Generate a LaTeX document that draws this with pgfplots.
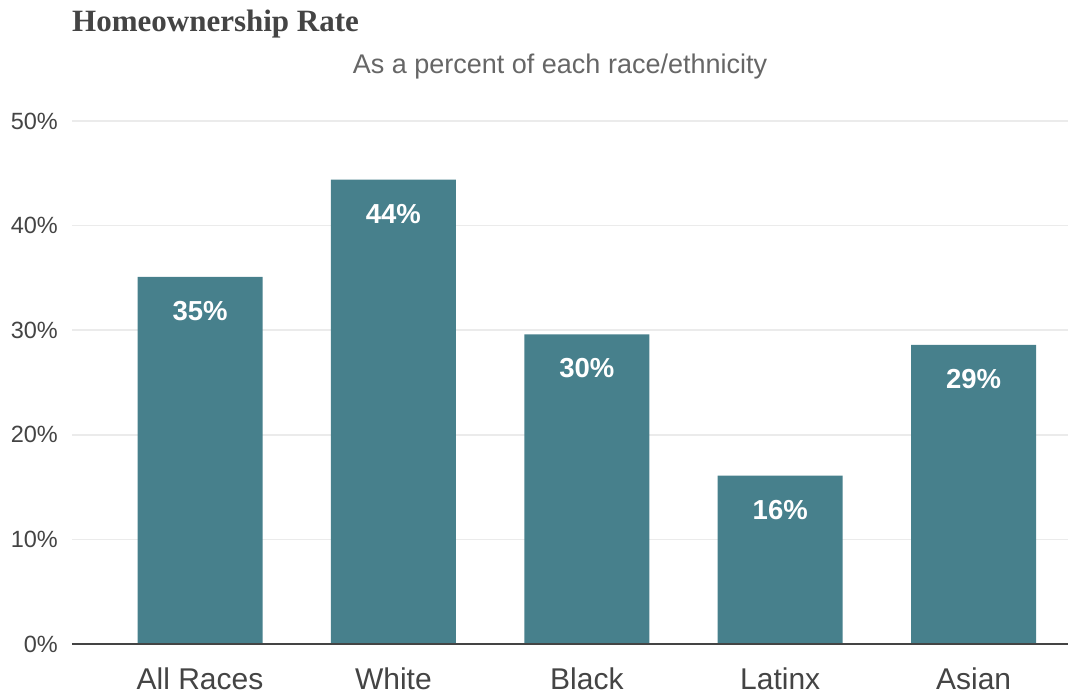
\documentclass[border=0pt]{standalone}
\usepackage{pgfplots}
\pgfplotsset{compat=1.18}
\usepackage{fontspec}
\setmainfont{Liberation Sans}
\newfontfamily\titlefont{Liberation Serif}
\definecolor{barc}{HTML}{47808C}
\definecolor{txt}{HTML}{444444}
\definecolor{sub}{HTML}{666666}
\definecolor{gridc}{HTML}{EBEBEB}
\begin{document}
\begin{tikzpicture}[x=1pt,y=1pt]
\path[use as bounding box] (-72,-50) rectangle (996,694-50);
\begin{axis}[
  at={(0,0)}, anchor=south west,
  scale only axis, width=996pt, height=523pt,
  ybar, bar width=125pt,
  xmin=-0.662, xmax=4.488,
  ymin=0, ymax=50,
  xtick={0,1,2,3,4},
  xticklabels={All Races,White,Black,Latinx,Asian},
  ytick={0,10,20,30,40,50},
  yticklabel={\pgfmathprintnumber{\tick}\%},
  /pgf/number format/assume math mode=true,
  major tick length=0pt,
  axis line style={draw=none},
  axis x line*=bottom, axis y line*=left,
  ymajorgrids, grid style={gridc, line width=1.5pt},
  yticklabel style={font=\fontsize{23.5}{27}\selectfont, text=txt, anchor=east, inner sep=0pt, xshift=-14pt},
  xticklabel style={font=\fontsize{30}{34}\selectfont, text=txt, anchor=base, inner sep=0pt, yshift=-45pt},
  nodes near coords={\pgfmathprintnumber[fixed,precision=0]{\pgfplotspointmeta}\%},
  every node near coord/.append style={font=\bfseries\fontsize{27.5}{32}\selectfont, text=white, anchor=center, yshift=-34pt},
  clip=false,
]
\addplot[fill=barc, draw=none] coordinates {(0,35.1) (1,44.4) (2,29.6) (3,16.1) (4,28.6)};
\draw[txt, line width=1.5pt] (axis cs:-0.662,0) -- (axis cs:4.488,0);
\end{axis}
\node[anchor=base west, inner sep=0pt, text=txt, font=\titlefont\bfseries\fontsize{31}{36}\selectfont] at (0,644-32) {Homeownership Rate};
\node[anchor=base, inner sep=0pt, text=sub, font=\fontsize{27}{32}\selectfont] at (488,644-74) {As a percent of each race/ethnicity};
\end{tikzpicture}
\end{document}
